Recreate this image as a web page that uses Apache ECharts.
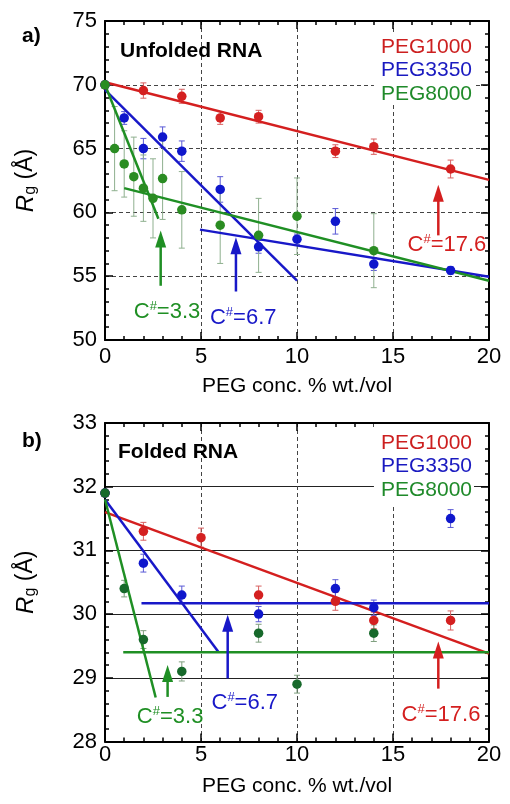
<!DOCTYPE html>
<html>
<head>
<meta charset="utf-8">
<script src="https://cdn.jsdelivr.net/npm/echarts@6/dist/echarts.min.js"></script>
<style>html,body{margin:0;padding:0;background:#fff;}#c{width:510px;height:804px;}</style>
</head>
<body>
<div id="c"></div>
<script>
// ---------- DATA ----------
const seriesNames = ['PEG1000', 'PEG3350', 'PEG8000'];

// Panel a) Unfolded RNA
const aX1000 = [0, 2, 4, 6, 8, 12, 14, 18];
const aY1000 = [70, 69.55, 69.1, 67.4, 67.5, 64.8, 65.15, 63.4];
const aE1000 = [0, 0.6, 0.55, 0.5, 0.5, 0.5, 0.6, 0.7];
const aX3350 = [0, 1, 2, 3, 4, 6, 8, 10, 12, 14, 18];
const aY3350 = [70, 67.4, 65.0, 65.9, 64.8, 61.8, 57.3, 57.9, 59.3, 55.95, 55.45];
const aE3350 = [0, 0.5, 0.8, 0.8, 0.8, 1.0, 0.5, 0.4, 1.0, 0.5, 0.3];
const aX8000 = [0, 0.5, 1, 1.5, 2, 2.5, 3, 4, 6, 8, 10, 14];
const aY8000 = [70, 65.0, 63.8, 62.8, 61.9, 61.1, 62.65, 60.2, 59.0, 58.2, 59.7, 57.0];
const aE8000 = [0, 3.3, 2.6, 3.1, 2.6, 3.1, 3.2, 3.0, 3.0, 2.9, 3.0, 2.9];
// fit lines [[x0,y0],[x1,y1]]
const aFit1000 = [[[0, 70.2], [20, 62.55]]];
const aFit3350 = [[[0, 69.6], [10, 54.65]], [[4.95, 58.65], [20, 54.95]]];
const aFit8000 = [[[0, 70], [2.78, 59.5]], [[1, 61.9], [20, 54.65]]];
// arrows [x, yStart, yTip]
const aArrows = [[17.36, 58.2, 62.16], [6.82, 53.8, 58.06], [2.9, 54.25, 58.58]];
// C# labels [x, y, value]
const aLabels = [[17.81, 57.46, '17.6'], [7.2, 51.72, '6.7'], [3.23, 52.2, '3.3']];

// Panel b) Folded RNA
const bX1000 = [0, 2, 5, 8, 12, 14, 18];
const bY1000 = [31.9, 31.3, 31.2, 30.3, 30.2, 29.9, 29.9];
const bE1000 = [0, 0.14, 0.15, 0.14, 0.14, 0.13, 0.15];
const bX3350 = [0, 2, 4, 8, 12, 14, 18];
const bY3350 = [31.9, 30.8, 30.3, 30.0, 30.4, 30.1, 31.5];
const bE3350 = [0, 0.14, 0.14, 0.12, 0.14, 0.12, 0.14];
const bX8000 = [0, 1, 2, 4, 8, 10, 14];
const bY8000 = [31.9, 30.4, 29.6, 29.1, 29.7, 28.9, 29.7];
const bE8000 = [0, 0.13, 0.14, 0.15, 0.14, 0.14, 0.13];
const bFit1000 = [[[0, 31.6], [20, 29.38]]];
const bFit3350 = [[[0, 31.8], [5.9, 29.41]], [[1.9, 30.17], [20, 30.17]]];
const bFit8000 = [[[0, 31.8], [2.64, 28.69]], [[0.95, 29.4], [20, 29.4]]];
const bArrows = [[17.36, 28.83, 29.57], [6.39, 28.99, 29.99], [3.26, 28.70, 29.2]];
const bLabels = [[17.5, 28.42, '17.6'], [7.28, 28.6, '6.7'], [3.39, 28.39, '3.3']];

const xRange = [0, 20, 5];
const aYRange = [50, 75, 5];
const bYRange = [28, 33, 1];

// ---------- STYLE ----------
const FONT = 'Liberation Sans, Arial, Helvetica, sans-serif';
const colLine = ['#d41f1f', '#1818c8', '#1f8f24'];
const colText = ['#cc1f1f', '#1a1ac0', '#1f8a2a'];
const colMarkA = ['#d42020', '#0f17cc', '#2a8c22'];
const colMarkB = ['#d42020', '#0f17cc', '#17692b'];
const colErrA = ['#d86060', '#5a5ad6', '#8fb08f'];
const colErrB = ['#d86060', '#5a5ad6', '#7f9f7f'];

function zip(xs, ys, es) { return xs.map((x, i) => es ? [x, ys[i], es[i]] : [x, ys[i]]); }

function errSeries(name, data, color, xi) {
  return {
    type: 'custom', name: name, xAxisIndex: xi, yAxisIndex: xi, z: 2, silent: true,
    encode: { x: 0, y: 1 },
    data: data,
    renderItem: function (params, api) {
      const x = api.value(0), y = api.value(1), e = api.value(2);
      if (!e) return null;
      const p1 = api.coord([x, y + e]), p2 = api.coord([x, y - e]);
      const st = { stroke: color, lineWidth: 1 };
      return { type: 'group', children: [
        { type: 'line', shape: { x1: p1[0], y1: p1[1], x2: p2[0], y2: p2[1] }, style: st },
        { type: 'line', shape: { x1: p1[0] - 3, y1: p1[1], x2: p1[0] + 3, y2: p1[1] }, style: st },
        { type: 'line', shape: { x1: p2[0] - 3, y1: p2[1], x2: p2[0] + 3, y2: p2[1] }, style: st }
      ]};
    }
  };
}
function fitSeries(name, segs, color, xi) {
  return segs.map(seg => ({
    type: 'line', name: name, xAxisIndex: xi, yAxisIndex: xi, z: 3, silent: true,
    data: seg, showSymbol: false, symbol: 'none',
    lineStyle: { color: color, width: 2.5 }, itemStyle: { color: color }
  }));
}
function ptSeries(name, data, color, xi) {
  return {
    type: 'scatter', name: name, xAxisIndex: xi, yAxisIndex: xi, z: 4, silent: true,
    data: data, symbol: 'circle', symbolSize: 9.5, itemStyle: { color: color, opacity: 1 }
  };
}
function arrowSeries(arrows, xi) {
  return {
    type: 'custom', xAxisIndex: xi, yAxisIndex: xi, z: 5, silent: true,
    encode: { x: 0, y: [1, 2] },
    data: arrows,
    renderItem: function (params, api) {
      const x = api.value(0);
      const p0 = api.coord([x, api.value(1)]), p1 = api.coord([x, api.value(2)]);
      const c = colLine[params.dataIndex];
      return { type: 'group', children: [
        { type: 'line', shape: { x1: p0[0], y1: p0[1], x2: p1[0], y2: p1[1] + 12 }, style: { stroke: c, lineWidth: 2.5 } },
        { type: 'polygon', shape: { points: [[p1[0], p1[1]], [p1[0] - 5.5, p1[1] + 17], [p1[0] + 5.5, p1[1] + 17]] }, style: { fill: c } }
      ]};
    }
  };
}
function labelSeries(labels, xi) {
  return {
    type: 'custom', xAxisIndex: xi, yAxisIndex: xi, z: 6, silent: true,
    encode: { x: 0, y: 1 },
    data: labels.map(l => [l[0], l[1]]),
    renderItem: function (params, api) {
      const p = api.coord([api.value(0), api.value(1)]);
      const i = params.dataIndex;
      const c = colLine[i];
      return {
        type: 'text', x: p[0], y: p[1],
        style: {
          text: '{a|C}{s|#}{a|=' + labels[i][2] + '}',
          align: 'center', verticalAlign: 'middle', fill: c,
          rich: {
            a: { fontSize: 22, fill: c, fontFamily: FONT, lineHeight: 24 },
            s: { fontSize: 13, fill: c, fontFamily: FONT, verticalAlign: 'top', lineHeight: 24, padding: [0, 0, 10, 0] }
          }
        }
      };
    }
  };
}

function xAxes(gridIndex, labelMargin, nameGap) {
  const common = {
    gridIndex: gridIndex, type: 'value', min: xRange[0], max: xRange[1], interval: xRange[2],
    axisLine: { show: true, onZero: false, lineStyle: { color: '#000', width: 2 } },
    axisTick: { show: true, inside: true, length: 8, lineStyle: { color: '#000', width: 1.5 } },
    minorTick: { show: true, splitNumber: 5, length: 4, lineStyle: { color: '#000', width: 1.5 } }
  };
  return [
    Object.assign({}, common, {
      position: 'bottom',
      axisLabel: { fontSize: 22, color: '#000', margin: labelMargin, fontFamily: FONT },
      splitLine: { show: true, lineStyle: { color: '#444', width: 1, type: [4, 3] } },
      name: 'PEG conc. % wt./vol', nameLocation: 'middle', nameGap: nameGap,
      nameTextStyle: { fontSize: 21, color: '#000', fontFamily: FONT }
    }),
    Object.assign({}, common, { position: 'top', axisLabel: { show: false }, splitLine: { show: false } })
  ];
}
function yAxes(gridIndex, range, splitStyle) {
  const common = {
    gridIndex: gridIndex, type: 'value', min: range[0], max: range[1], interval: range[2],
    axisLine: { show: true, onZero: false, lineStyle: { color: '#000', width: 2 } },
    axisTick: { show: true, inside: true, length: 8, lineStyle: { color: '#000', width: 1.5 } },
    minorTick: { show: true, splitNumber: 5, length: 4, lineStyle: { color: '#000', width: 1.5 } }
  };
  return [
    Object.assign({}, common, {
      position: 'left',
      axisLabel: { fontSize: 22, color: '#000', margin: 8, fontFamily: FONT },
      splitLine: { show: true, lineStyle: splitStyle },
      name: '{r|R}{s|g}{n| (Å)}', nameLocation: 'middle', nameGap: 66, nameRotate: 90,
      nameTextStyle: {
        rich: {
          r: { fontSize: 24, fontStyle: 'italic', color: '#000', fontFamily: FONT, lineHeight: 26 },
          s: { fontSize: 16, color: '#000', fontFamily: FONT, verticalAlign: 'bottom', lineHeight: 26, padding: [8, 0, 0, 0] },
          n: { fontSize: 23, color: '#000', fontFamily: FONT, lineHeight: 26 }
        }
      }
    }),
    Object.assign({}, common, { position: 'right', axisLabel: { show: false }, splitLine: { show: false } })
  ];
}

function legendFor(top, padding) {
  return {
    orient: 'vertical', right: 36, top: top, icon: 'none', itemWidth: 0, itemHeight: 24, itemGap: 1,
    padding: padding, backgroundColor: '#fff', selectedMode: false, z: 3,
    textStyle: { fontSize: 21, fontFamily: FONT },
    data: seriesNames.map((n, i) => ({ name: n, textStyle: { color: colText[i] } }))
  };
}

const series = [];
const aSets = [[aX1000, aY1000, aE1000, aFit1000], [aX3350, aY3350, aE3350, aFit3350], [aX8000, aY8000, aE8000, aFit8000]];
const bSets = [[bX1000, bY1000, bE1000, bFit1000], [bX3350, bY3350, bE3350, bFit3350], [bX8000, bY8000, bE8000, bFit8000]];
[[aSets, 0, colMarkA, colErrA], [bSets, 2, colMarkB, colErrB]].forEach(([sets, xi, cm, ce]) => {
  sets.forEach((s, i) => series.push(errSeries(seriesNames[i], zip(s[0], s[1], s[2]), ce[i], xi)));
  sets.forEach((s, i) => series.push(...fitSeries(seriesNames[i], s[3], colLine[i], xi)));
  sets.forEach((s, i) => series.push(ptSeries(seriesNames[i], zip(s[0], s[1]), cm[i], xi)));
});
series.push(arrowSeries(aArrows, 0), arrowSeries(bArrows, 2));
series.push(labelSeries(aLabels, 0), labelSeries(bLabels, 2));

const titleStyle = { fontSize: 21, fontWeight: 'bold', color: '#000', fontFamily: FONT };
const option = {
  animation: false,
  backgroundColor: '#fff',
  textStyle: { fontFamily: FONT },
  title: [
    { text: 'a)', left: 17, top: 21, textStyle: titleStyle },
    { text: 'Unfolded RNA', left: 115, top: 36, textStyle: titleStyle },
    { text: 'b)', left: 17, top: 426, textStyle: titleStyle },
    { text: 'Folded RNA', left: 113, top: 437, textStyle: titleStyle }
  ],
  legend: [legendFor(35, [0, 2, 0, 2]), legendFor(424, [7, 2, 4, 2])],
  grid: [
    { left: 105, top: 21, width: 384, height: 319 },
    { left: 105, top: 423, width: 384, height: 318.5 }
  ],
  xAxis: [...xAxes(0, 6, 36), ...xAxes(1, 2, 34)],
  yAxis: [
    ...yAxes(0, aYRange, { color: '#444', width: 1, type: [4, 3] }),
    ...yAxes(1, bYRange, { color: '#222', width: 1, type: 'solid' })
  ],
  series: series
};
const chart = echarts.init(document.getElementById('c'), null, { renderer: 'canvas' });
chart.setOption(option);
</script>
</body>
</html>
